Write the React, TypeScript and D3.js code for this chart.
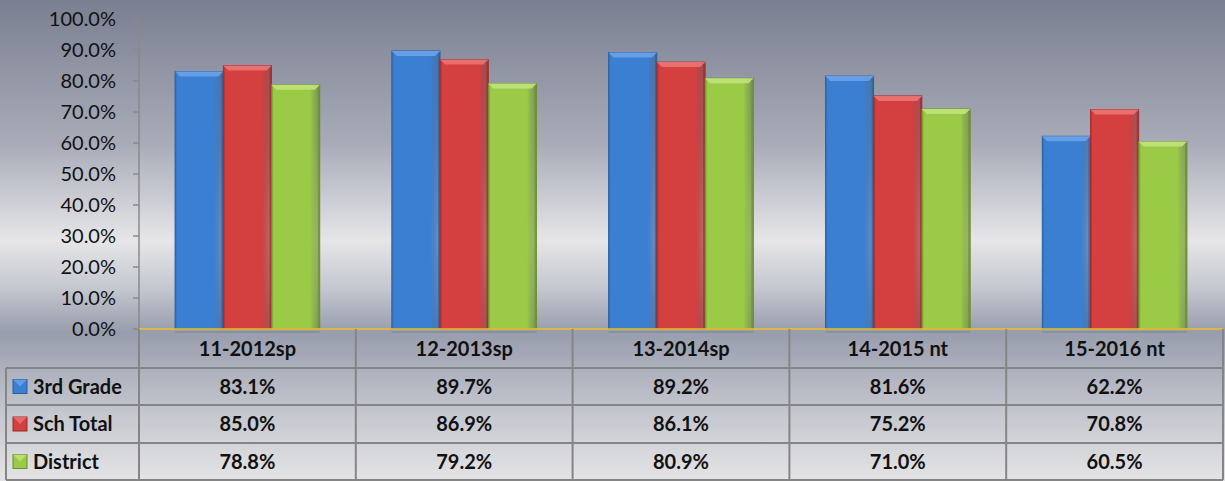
import React from 'react';
import * as d3 from 'd3';

// chart data
const categories = ['11-2012sp', '12-2013sp', '13-2014sp', '14-2015 nt', '15-2016 nt'];
const seriesNames = ['3rd Grade', 'Sch Total', 'District'];
const thirdGrade = [83.1, 89.7, 89.2, 81.6, 62.2];
const schTotal = [85.0, 86.9, 86.1, 75.2, 70.8];
const district = [78.8, 79.2, 80.9, 71.0, 60.5];
const yTicks = [0, 10, 20, 30, 40, 50, 60, 70, 80, 90, 100];

const seriesValues = [thirdGrade, schTotal, district];
const palette = [
    { base: '#3b7fd2', light: '#6ba3e8', dark: '#28609f' },
    { base: '#d43f3f', light: '#ec7474', dark: '#9e2a2a' },
    { base: '#9bca47', light: '#c2e37c', dark: '#6b8f2c' },
];

const W = 1225;
const H = 481;

const Bar = ({ x, y, w, h, c, id }) => {
    if (h <= 0) return null;
    const b = 5;
    return (
        <g>
            <rect x={x} y={y} width={w} height={h} fill={`url(#barGrad${id})`} stroke={c.dark} strokeWidth={0.8} />
            {/* top bevel */}
            <polygon points={`${x},${y} ${x + w},${y} ${x + w - b},${y + b} ${x + b},${y + b}`} fill={c.light} opacity={0.9} />
            {/* side edges */}
            <rect x={x} y={y + 2} width={1.5} height={h - 2} fill={c.dark} opacity={0.5} />
            <rect x={x + w - 2} y={y + 2} width={2} height={h - 2} fill={c.dark} opacity={0.7} />
        </g>
    );
};

const App = () => {
    // Layout of plot area
    const left = 139;
    const right = 1223;
    const top = 19;
    const bottom = 329;

    const xScale = d3.scaleBand().domain(categories).range([left, right]).padding(0);
    const bw = xScale.bandwidth();
    const inner = d3.scaleBand().domain(seriesNames).range([bw * 0.166, bw * 0.834]).padding(0);
    const yScale = d3.scaleLinear().domain([0, 100]).range([bottom, top]);

    // Table rows
    const tableLeft = 6;
    const rowEdges = [329, 368, 405, 443, 480];
    const font = "Lato, 'Open Sans', sans-serif";

    return (
        <svg width={W} height={H} style={{ position: 'absolute', left: 0, top: 0 }} fontFamily={font}>
            <defs>
                <linearGradient id="bgGrad" x1="0" y1="0" x2="0" y2="1">
                    <stop offset="0" stopColor="#7a7f91" />
                    <stop offset="0.3" stopColor="#a9acb8" />
                    <stop offset="0.5" stopColor="#e6e6e8" />
                    <stop offset="0.6" stopColor="#c4c7cf" />
                    <stop offset="0.69" stopColor="#989dad" />
                    <stop offset="0.85" stopColor="#c3c5cd" />
                    <stop offset="1" stopColor="#e4e4e6" />
                </linearGradient>
                {palette.map((c, i) => (
                    <linearGradient key={i} id={`barGrad${i}`} x1="0" y1="0" x2="1" y2="0">
                        <stop offset="0" stopColor={c.base} />
                        <stop offset="0.8" stopColor={c.base} />
                        <stop offset="1" stopColor={c.dark} stopOpacity={0.6} />
                    </linearGradient>
                ))}
            </defs>
            <rect x={0} y={0} width={W} height={H} fill="url(#bgGrad)" />

            {/* y axis */}
            <line x1={left} x2={left} y1={top} y2={bottom} stroke="#8a8a8a" strokeWidth={1.5} />
            {yTicks.map((t) => (
                <g key={t}>
                    <line x1={left - 6} x2={left} y1={yScale(t)} y2={yScale(t)} stroke="#8a8a8a" strokeWidth={1.5} />
                    <text x={116} y={yScale(t)} dy="0.36em" textAnchor="end" fontSize={20} fill="#111">
                        {`${t.toFixed(1)}%`}
                    </text>
                </g>
            ))}

            {/* bars */}
            {categories.map((cat, ci) => (
                <g key={cat}>
                    {seriesNames.map((s, si) => {
                        const v = seriesValues[si][ci];
                        const x = xScale(cat) + inner(s);
                        return (
                            <Bar key={s} id={si} x={x} y={yScale(v)} w={inner.bandwidth()} h={bottom - yScale(v)} c={palette[si]} />
                        );
                    })}
                    <line x1={xScale(cat) + inner(seriesNames[0])} x2={xScale(cat) + inner(seriesNames[2]) + inner.bandwidth()} y1={bottom + 3} y2={bottom + 3} stroke="#7d8190" strokeWidth={1.5} opacity={0.6} />
                </g>
            ))}
            <line x1={left} x2={right} y1={bottom} y2={bottom} stroke="#f0c020" strokeWidth={1.5} />

            {/* data table */}
            <g stroke="#858585" strokeWidth={2} fill="none">
                <line x1={left} x2={left} y1={bottom} y2={rowEdges[4]} />
                {categories.map((cat) => (
                    <line key={cat} x1={xScale(cat) + bw} x2={xScale(cat) + bw} y1={bottom} y2={rowEdges[4]} />
                ))}
                <line x1={tableLeft} x2={tableLeft} y1={rowEdges[1]} y2={rowEdges[4]} />
                {rowEdges.slice(1).map((y) => (
                    <line key={y} x1={tableLeft} x2={right} y1={y} y2={y} />
                ))}
            </g>

            {categories.map((cat) => (
                <text key={cat} x={xScale(cat) + bw / 2} y={(rowEdges[0] + rowEdges[1]) / 2} dy="0.36em" textAnchor="middle" fontSize={20} fontWeight="bold" fill="#111">
                    {cat}
                </text>
            ))}

            {seriesNames.map((s, si) => {
                const cy = (rowEdges[si + 1] + rowEdges[si + 2]) / 2;
                const c = palette[si];
                return (
                    <g key={s}>
                        <rect x={13} y={cy - 7} width={14} height={14} fill={c.base} stroke={c.dark} strokeWidth={1} />
                        <polygon points={`${13},${cy - 7} ${27},${cy - 7} ${20},${cy}`} fill={c.light} opacity={0.8} />
                        <text x={33} y={cy} dy="0.36em" fontSize={20} fontWeight="bold" fill="#111">
                            {s}
                        </text>
                        {categories.map((cat, ci) => (
                            <text key={cat} x={xScale(cat) + bw / 2} y={cy} dy="0.36em" textAnchor="middle" fontSize={20} fontWeight="bold" fill="#111">
                                {`${seriesValues[si][ci].toFixed(1)}%`}
                            </text>
                        ))}
                    </g>
                );
            })}
        </svg>
    );
};

export default App;
